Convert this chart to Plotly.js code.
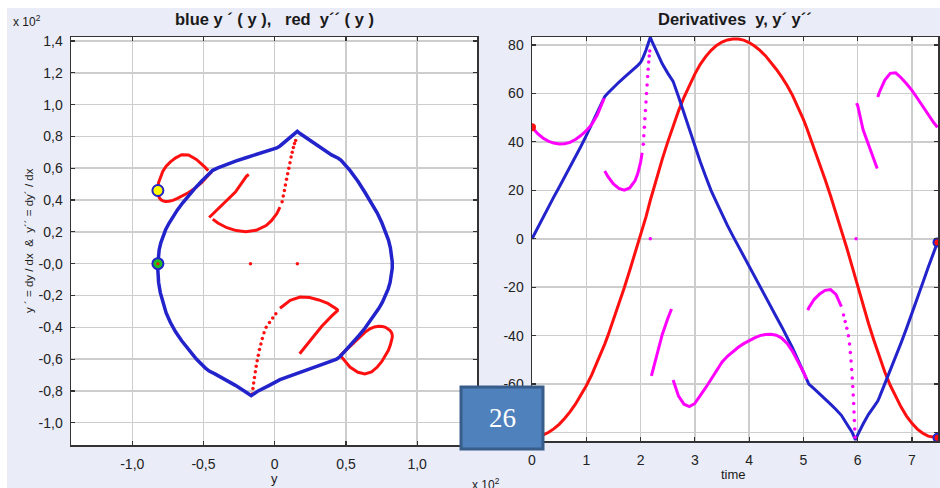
<!DOCTYPE html>
<html><head><meta charset="utf-8">
<script src="https://cdn.plot.ly/plotly-3.0.1.min.js"></script>
<style>html,body{margin:0;padding:0;background:#fff;}#chart{width:940px;height:488px;}</style>
</head><body><div id="chart"></div>
<script>
// ---- data (y values in units of the x10^2 scale) ----
const time = [0.0,0.1,0.2,0.3,0.4,0.5,0.6,0.7,0.8,0.9,1.0,1.1,1.2,1.3,1.33,
  1.34,1.4,1.5,1.6,1.7,1.8,1.9,1.95,2.0,2.03,2.1,2.18,
  2.2,2.3,2.4,2.5,2.57,
  2.6,2.7,2.8,2.9,3.0,3.1,3.2,3.3,3.4,3.5,3.6,3.7,3.8,3.9,4.0,4.1,4.2,4.3,4.4,4.5,4.6,4.7,4.8,4.9,5.0,5.06,
  5.08,5.1,5.2,5.3,5.4,5.5,5.6,5.7,5.8,5.9,5.96,
  5.98,6.0,6.1,6.2,6.3,6.36,
  6.37,6.4,6.5,6.6,6.7,6.8,6.9,7.0,7.1,7.2,7.3,7.4,7.47];
const posY = [-82.0,-81.8,-81.1,-80.0,-78.5,-76.6,-74.2,-71.5,-68.3,-64.7,-60.7,-56.2,-51.2,-45.8,-44.1,
  -43.5,-39.9,-33.6,-27.0,-20.2,-13.1,-6.0,-2.3,1.5,3.7,9.0,15.9,
  17.5,25.4,32.9,39.9,44.6,
  46.6,52.8,58.4,63.3,68.0,72.0,75.2,77.8,79.8,81.2,82.1,82.5,82.5,82.0,81.0,79.6,77.8,75.6,73.0,70.0,66.8,63.3,59.2,54.5,49.3,45.8,
  44.6,43.4,37.3,31.0,24.5,17.8,10.9,3.7,-3.8,-11.6,-16.5,
  -18.2,-19.8,-27.6,-35.0,-42.0,-46.0,
  -46.7,-48.8,-55.0,-60.5,-65.3,-69.5,-73.2,-76.2,-78.6,-80.3,-81.5,-82.1,-82.2];
const velY = [0.0,4.4,8.8,13.0,17.2,21.3,25.4,29.6,33.8,38.1,42.6,47.2,52.0,57.0,58.4,
  58.7,60.2,62.5,64.6,66.6,68.5,70.5,71.6,72.8,74.0,77.8,83.2,
  82.0,77.0,72.2,68.4,66.3,
  65.0,58.6,51.8,44.9,38.2,31.8,25.7,19.9,15.0,10.0,5.5,1.2,-3.0,-7.5,-11.8,-16.0,-20.1,-24.2,-28.2,-32.2,-36.3,-40.6,-45.1,-50.0,-55.2,-58.5,
  -59.2,-60.0,-62.0,-64.0,-66.0,-68.3,-70.5,-72.9,-76.5,-80.0,-83.0,
  -82.2,-81.0,-76.5,-72.5,-69.3,-67.5,
  -67.0,-65.5,-60.0,-54.0,-48.5,-43.0,-37.0,-31.0,-24.5,-18.2,-11.8,-5.8,-1.5];
const accY = [46.0,43.5,41.6,40.3,39.5,39.1,39.2,39.8,41.0,42.6,44.6,47.2,51.0,56.3,58.0,
  28.0,25.6,22.6,20.8,20.1,21.0,24.0,27.0,31.5,35.5,null,null,
  -56.6,-47.5,-39.5,-33.0,-29.0,
  -58.3,-65.0,-68.3,-69.3,-68.0,-65.0,-61.5,-58.0,-54.5,-51.0,-48.5,-46.5,-44.8,-43.3,-42.0,-40.9,-40.0,-39.5,-39.4,-39.8,-41.0,-43.2,-46.5,-50.5,-55.0,-58.0,
  -29.5,-28.5,-25.0,-22.8,-21.3,-21.0,-23.0,-28.0,null,null,null,
  56.0,55.0,45.0,38.5,32.5,29.0,
  58.5,60.5,65.5,68.3,68.5,66.5,64.0,61.3,58.0,54.5,51.0,48.0,46.0];
// fast-transition samples of y'' (drawn as separate dots in the reference)
const fastTime = [2.05,2.06,2.07,2.08,2.09,2.10,2.11,2.12,2.13,2.14,2.15,2.16,2.17,2.18,
  5.74,5.77,5.80,5.83,5.85,5.865,5.878,5.89,5.90,5.91,5.918,5.926,5.933,5.94,5.946,5.952,5.97];
const fastPos = [5.2,6.0,6.8,7.5,8.3,9.1,9.9,10.7,11.5,12.3,13.1,13.9,14.7,15.9,
  0.8,-1.4,-3.7,-6.0,-7.5,-8.7,-9.7,-10.7,-11.5,-12.3,-13.0,-13.6,-14.2,-14.8,-15.3,-15.8,-17.0];
const fastAcc = [39.0,42.5,46.0,49.5,53.0,56.5,60.0,63.5,67.0,70.0,73.0,75.5,77.5,0.0,
  -31.5,-34.2,-37.0,-40.0,-43.5,-47.0,-50.5,-54.0,-57.5,-61.0,-64.5,-68.0,-71.5,-75.0,-78.5,-82.0,0.0];

const leftXTicks = [-1.0,-0.5,0,0.5,1.0];
const leftXText = ['-1,0','-0,5','0','0,5','1,0'];
const leftYTicks = [-1.0,-0.8,-0.6,-0.4,-0.2,0,0.2,0.4,0.6,0.8,1.0,1.2,1.4];
const leftYText = ['-1,0','-0,8','-0,6','-0,4','-0,2','-0,0','0,2','0,4','0,6','0,8','1,0','1,2','1,4'];
const rightXTicks = [0,1,2,3,4,5,6,7];
const rightYTicks = [-80,-60,-40,-20,0,20,40,60,80];
const rightYText = ['-80','-60','-40','-20','0','20','40','60','80'];
const expScale = 100;

// ---- helpers ----
const W = 940, H = 488;
const px = v => v / W;
const py = v => 1 - v / H;
// insert gaps where y'' jumps between branches
function withBreaks(xs, key, ys) {
  const ox = [], oy = [];
  for (let i = 0; i < key.length; i++) {
    if (i > 0 && key[i] !== null && key[i-1] !== null && Math.abs(key[i] - key[i-1]) > 12) {
      ox.push(null); oy.push(null);
    }
    ox.push(xs[i]); oy.push(ys[i]);
  }
  return [ox, oy];
}
const BLUE = '#2323cc', RED = '#ff1010', MAG = '#ff00ff';
const F = 'Liberation Sans, Arial, sans-serif';

const [rAccX, rAccY] = withBreaks(time, accY, accY);
const leftX = posY.map(v => v / expScale);
const leftAcc = accY.map(v => v === null ? null : v / expScale);
const [lAccX, lAccY] = withBreaks(leftX, accY, leftAcc);

const traces = [
  // left subplot: y'' vs y (red), y' vs y (blue)
  {x: lAccX, y: lAccY, xaxis: 'x', yaxis: 'y', mode: 'lines', line: {color: RED, width: 3}, hoverinfo: 'skip'},
  {x: fastPos.map(v => v / expScale), y: fastAcc.map(v => v / expScale), xaxis: 'x', yaxis: 'y', mode: 'markers',
   marker: {color: RED, size: 3.5}, hoverinfo: 'skip'},
  {x: leftX, y: velY.map(v => v / expScale), xaxis: 'x', yaxis: 'y', mode: 'lines', line: {color: BLUE, width: 3.5}, hoverinfo: 'skip'},
  {x: [posY[0] / expScale], y: [accY[0] / expScale], xaxis: 'x', yaxis: 'y', mode: 'markers',
   marker: {color: '#ffff00', size: 11, line: {color: BLUE, width: 2}}, hoverinfo: 'skip'},
  {x: [posY[0] / expScale], y: [velY[0] / expScale], xaxis: 'x', yaxis: 'y', mode: 'markers',
   marker: {color: '#22bb22', size: 11, line: {color: BLUE, width: 2}}, hoverinfo: 'skip'},
  {x: [posY[0] / expScale], y: [velY[0] / expScale], xaxis: 'x', yaxis: 'y', mode: 'markers',
   marker: {color: RED, size: 3}, hoverinfo: 'skip'},
  // right subplot: y, y', y'' vs time
  {x: time, y: posY, xaxis: 'x2', yaxis: 'y2', mode: 'lines', line: {color: RED, width: 3}, hoverinfo: 'skip'},
  {x: time, y: velY, xaxis: 'x2', yaxis: 'y2', mode: 'lines', line: {color: BLUE, width: 3}, hoverinfo: 'skip'},
  {x: rAccX, y: rAccY, xaxis: 'x2', yaxis: 'y2', mode: 'lines', line: {color: MAG, width: 3}, hoverinfo: 'skip'},
  {x: fastTime, y: fastAcc, xaxis: 'x2', yaxis: 'y2', mode: 'markers', marker: {color: MAG, size: 3.5}, hoverinfo: 'skip'},
  {x: [time[0]], y: [accY[0]], xaxis: 'x2', yaxis: 'y2', mode: 'markers', marker: {color: RED, size: 8}, hoverinfo: 'skip'},
  {x: [time[time.length-1], time[time.length-1]], y: [velY[velY.length-1], posY[posY.length-1]], xaxis: 'x2', yaxis: 'y2',
   mode: 'markers', marker: {color: RED, size: 8, line: {color: BLUE, width: 2}}, hoverinfo: 'skip'}
];

const axisCommon = {
  showline: true, mirror: 'ticks', linecolor: '#333', linewidth: 1.5,
  ticks: 'inside', ticklen: 4, tickcolor: '#333', tickwidth: 1.2,
  showgrid: true, gridcolor: '#cdcdcd', gridwidth: 1.5, zeroline: false,
  tickfont: {family: F, size: 14, color: '#222'}, fixedrange: true
};

function note(x, y, text, size, extra) {
  return Object.assign({xref: 'paper', yref: 'paper', x: px(x), y: py(y), xanchor: 'center', yanchor: 'middle',
    text: text, showarrow: false, font: {family: F, size: size, color: '#1a1a1a'}}, extra || {});
}

const layout = {
  width: W, height: H, margin: {l: 0, r: 0, t: 0, b: 0},
  paper_bgcolor: '#eaecf8', plot_bgcolor: '#ffffff', showlegend: false,
  xaxis: Object.assign({}, axisCommon, {domain: [px(71), px(477)], range: [-1.43, 1.42], anchor: 'y',
    tickmode: 'array', tickvals: leftXTicks, ticktext: leftXText, ticklabelstandoff: 6}),
  yaxis: Object.assign({}, axisCommon, {domain: [py(445), py(37)], range: [-1.14, 1.425], anchor: 'x',
    tickmode: 'array', tickvals: leftYTicks, ticktext: leftYText, ticklabelstandoff: 4}),
  xaxis2: Object.assign({}, axisCommon, {domain: [px(532), px(938)], range: [0, 7.48], anchor: 'y2',
    tickmode: 'array', tickvals: rightXTicks, ticktext: rightXTicks.map(String), ticklabelstandoff: 6}),
  yaxis2: Object.assign({}, axisCommon, {domain: [py(441), py(37)], range: [-83.5, 83.3], anchor: 'x2',
    tickmode: 'array', tickvals: rightYTicks, ticktext: rightYText, ticklabelstandoff: 4}),
  shapes: [
    {type: 'rect', xref: 'paper', yref: 'paper', x0: 0, x1: 1, y0: py(8), y1: 1, fillcolor: '#ffffff', line: {width: 0}, layer: 'below'},
    {type: 'rect', xref: 'paper', yref: 'paper', x0: 0, x1: px(7), y0: 0, y1: 1, fillcolor: '#ffffff', line: {width: 0}, layer: 'below'},
    {type: 'rect', xref: 'paper', yref: 'paper', x0: px(461), x1: px(543), y0: py(449), y1: py(387),
     fillcolor: '#4f81bd', line: {color: '#385d8a', width: 3}, layer: 'above'}
  ],
  annotations: [
    note(274, 19, '<b>blue y \u00b4 ( y ),\u00a0\u00a0 red\u00a0 y\u00b4\u00b4 ( y )</b>', 16.5),
    note(735, 19, '<b>Derivatives\u00a0 y, y\u00b4 y\u00b4\u00b4</b>', 16.5),
    note(29, 241, 'y \u00b4 = dy / dx\u00a0 &\u00a0 y\u00b4\u00b4 = dy\u00b4 / dx', 11.5, {textangle: -90}),
    note(274, 478, 'y', 13),
    note(733, 474, 'time', 13),
    note(27, 21, 'x 10<sup>2</sup>', 12),
    note(486, 484, 'x 10<sup>2</sup>', 12),
    note(502, 418, '26', 27, {font: {family: 'Liberation Serif, Times New Roman, serif', size: 27, color: '#ffffff'}})
  ]
};

Plotly.newPlot('chart', traces, layout, {staticPlot: true, displayModeBar: false});
</script>
</body></html>
